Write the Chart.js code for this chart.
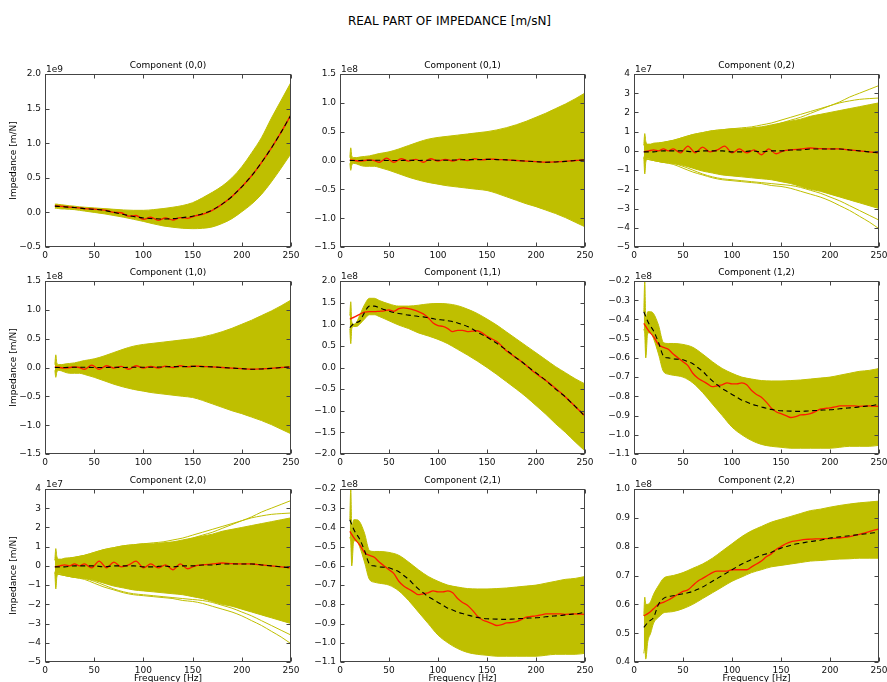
<!DOCTYPE html>
<html><head><meta charset="utf-8">
<script src="https://cdn.jsdelivr.net/npm/chart.js@4/dist/chart.umd.min.js"></script>
<style>
html,body{margin:0;padding:0;background:#fff;overflow:hidden;width:887px;height:682px;}
#suptitle{position:absolute;left:0;top:13px;width:899px;text-align:center;font:12px 'DejaVu Sans',sans-serif;color:#000;line-height:16px;white-space:nowrap}
canvas{position:absolute}
</style></head><body>
<div id="suptitle">REAL PART OF IMPEDANCE [m/sN]</div>
<script>
// ---------- frequency grids (Hz) ----------
const FREQ_ENV  = [10,11,12,14,17,20,25,30,35,40,50,60,70,80,90,100,110,120,130,140,150,160,170,180,190,200,210,220,230,240,250];
const FREQ_MEAN = [10,20,30,40,50,60,70,80,90,100,110,120,130,140,150,160,170,180,190,200,210,220,230,240,250];
const FREQ_WIG  = [10,15,20,25,30,35,40,47.5,55,62.5,70,77.5,85,92.5,100,107.5,115,122.5,130,137.5,145,152.5,160,170,180,190,200,210,220,230,240,250];
const FREQ_FINE = [10,15,20,25,30,35,40,45,50,55,60,65,70,75,80,85,90,95,100,105,110,115,120,125,130,135,140,145,150,155,160,165,170,175,180,185,190,195,200,205,210,215,220,225,230,235,240,245,250];
const X_TICKS = [0,50,100,150,200,250];

// ---------- Component (0,0)  [x1e9] ----------
const upper00 = [0.12,0.12,0.12,0.115,0.11,0.105,0.095,0.09,0.08,0.075,0.065,0.055,0.045,0.035,0.03,0.03,0.04,0.055,0.075,0.1,0.14,0.21,0.29,0.38,0.5,0.66,0.86,1.08,1.36,1.62,1.88];
const lower00 = [0.06,0.06,0.06,0.055,0.05,0.05,0.045,0.04,0.03,0.02,0.0,-0.02,-0.045,-0.07,-0.1,-0.13,-0.165,-0.195,-0.215,-0.23,-0.235,-0.23,-0.21,-0.16,-0.09,0.01,0.12,0.26,0.44,0.64,0.85];
const mean00  = [0.09,0.08,0.07,0.055,0.045,0.03,0.0,-0.03,-0.06,-0.08,-0.09,-0.095,-0.09,-0.075,-0.055,-0.02,0.035,0.12,0.23,0.37,0.53,0.72,0.93,1.16,1.41];
const red00   = [0.095,0.09,0.085,0.075,0.07,0.065,0.055,0.05,0.04,0.03,0.0,-0.005,-0.055,-0.045,-0.1,-0.07,-0.115,-0.08,-0.11,-0.075,-0.085,-0.05,-0.03,0.03,0.12,0.23,0.37,0.53,0.72,0.93,1.16,1.41];
const yTicks00 = [-0.5,0,0.5,1,1.5,2];

// ---------- Component (0,1) = (1,0)  [x1e8] ----------
const upper01 = [0.05,0.22,0.08,0.05,0.05,0.06,0.07,0.08,0.1,0.12,0.15,0.2,0.26,0.32,0.37,0.4,0.42,0.44,0.46,0.48,0.5,0.53,0.57,0.62,0.68,0.75,0.82,0.9,0.98,1.07,1.17];
const lower01 = [-0.05,-0.17,-0.08,-0.05,-0.06,-0.08,-0.1,-0.1,-0.1,-0.12,-0.17,-0.23,-0.29,-0.34,-0.38,-0.41,-0.44,-0.46,-0.48,-0.5,-0.52,-0.57,-0.63,-0.69,-0.75,-0.8,-0.86,-0.92,-0.99,-1.07,-1.15];
const mean01  = [0.0,0.0,0.005,0.005,0.0,0.0,0.005,0.0,0.005,0.005,0.005,0.01,0.015,0.015,0.02,0.015,0.01,0.0,-0.01,-0.02,-0.03,-0.025,-0.015,0.0,0.01];
const red01   = [0.01,0.0,-0.01,0.0,0.01,0.0,-0.03,0.04,-0.03,0.03,-0.01,0.02,-0.03,0.03,-0.01,0.02,-0.01,0.025,0.0,0.03,0.01,0.025,0.02,0.01,0.0,-0.01,-0.02,-0.03,-0.025,-0.015,0.0,0.01];
const yTicks01 = [-1.5,-1,-0.5,0,0.5,1,1.5];

// ---------- Component (0,2) = (2,0)  [x1e7] ----------
const upper02 = [0.3,0.9,0.5,0.35,0.35,0.4,0.42,0.45,0.5,0.55,0.7,0.85,0.95,1.05,1.1,1.15,1.15,1.2,1.25,1.35,1.45,1.55,1.65,1.8,1.9,2.0,2.1,2.2,2.3,2.4,2.5];
const lower02 = [-0.3,-1.2,-0.6,-0.4,-0.45,-0.5,-0.55,-0.6,-0.62,-0.65,-0.75,-0.9,-1.05,-1.15,-1.25,-1.3,-1.35,-1.4,-1.45,-1.5,-1.6,-1.7,-1.85,-2.0,-2.1,-2.25,-2.4,-2.55,-2.7,-2.85,-3.0];
const outA02  = [0.3,0.35,0.4,0.5,0.6,0.75,0.85,0.95,1.0,1.05,1.1,1.15,1.2,1.3,1.45,1.6,1.75,1.95,2.15,2.35,2.55,2.8,3.0,3.2,3.4];
const outB02  = [0.3,0.35,0.45,0.55,0.7,0.85,0.95,1.05,1.1,1.15,1.2,1.25,1.35,1.45,1.6,1.75,1.9,2.05,2.2,2.35,2.5,2.6,2.68,2.72,2.75];
const outC02  = [-0.4,-0.5,-0.6,-0.7,-0.9,-1.1,-1.25,-1.4,-1.5,-1.55,-1.6,-1.65,-1.7,-1.8,-1.85,-1.95,-2.1,-2.25,-2.4,-2.6,-2.85,-3.1,-3.4,-3.7,-4.05];
const outD02  = [-0.4,-0.5,-0.6,-0.65,-0.8,-1.0,-1.2,-1.35,-1.45,-1.5,-1.55,-1.6,-1.65,-1.7,-1.75,-1.8,-1.9,-2.05,-2.2,-2.4,-2.6,-2.85,-3.1,-3.35,-3.6];
const mean02  = [-0.05,-0.05,0.0,0.0,0.0,-0.05,0.0,0.0,0.0,-0.05,-0.05,0.0,-0.05,0.0,0.0,0.05,0.05,0.1,0.1,0.1,0.1,0.05,0.0,-0.05,-0.1];
const red02   = [-0.05,0.0,0.05,0.0,0.1,0.0,0.1,-0.1,0.25,-0.1,0.2,-0.05,0.05,0.25,-0.1,0.1,-0.1,0.05,-0.2,0.1,-0.15,0.0,0.05,0.1,0.15,0.12,0.1,0.1,0.05,0.0,-0.05,-0.1];
const yTicks02 = [-5,-4,-3,-2,-1,0,1,2,3,4];

// ---------- Component (1,1)  [x1e8] ----------
const upper11 = [1.2,1.52,1.05,1.0,1.05,1.2,1.45,1.6,1.6,1.55,1.47,1.42,1.42,1.44,1.47,1.48,1.47,1.43,1.35,1.25,1.12,0.98,0.82,0.66,0.5,0.34,0.18,0.02,-0.12,-0.26,-0.38];
const lower11 = [0.9,0.55,0.9,0.95,0.95,1.0,1.12,1.22,1.22,1.18,1.08,0.98,0.9,0.8,0.73,0.65,0.55,0.42,0.29,0.15,0.0,-0.16,-0.33,-0.5,-0.68,-0.88,-1.08,-1.3,-1.5,-1.72,-1.93];
const mean11  = [0.92,1.03,1.07,1.27,1.42,1.42,1.38,1.34,1.3,1.27,1.25,1.23,1.21,1.2,1.18,1.17,1.15,1.13,1.11,1.1,1.08,1.06,1.03,0.99,0.95,0.89,0.82,0.76,0.7,0.63,0.56,0.48,0.4,0.31,0.22,0.14,0.05,-0.04,-0.12,-0.21,-0.3,-0.4,-0.5,-0.59,-0.68,-0.79,-0.9,-1.01,-1.13];
const red11   = [1.12,1.17,1.23,1.28,1.29,1.29,1.3,1.31,1.33,1.3,1.36,1.38,1.36,1.33,1.29,1.24,1.15,1.03,0.97,0.95,0.9,0.83,0.86,0.86,0.83,0.84,0.85,0.8,0.72,0.66,0.6,0.5,0.38,0.3,0.22,0.14,0.05,-0.05,-0.14,-0.22,-0.3,-0.39,-0.48,-0.58,-0.68,-0.79,-0.9,-1.01,-1.12];
const yTicks11 = [-2,-1.5,-1,-0.5,0,0.5,1,1.5,2];

// ---------- Component (1,2) = (2,1)  [x1e8] ----------
const upper12 = [-0.36,-0.2,-0.4,-0.36,-0.36,-0.37,-0.43,-0.52,-0.525,-0.525,-0.53,-0.545,-0.58,-0.62,-0.655,-0.68,-0.7,-0.71,-0.718,-0.72,-0.72,-0.718,-0.715,-0.71,-0.705,-0.7,-0.69,-0.68,-0.67,-0.665,-0.655];
const lower12 = [-0.45,-0.48,-0.6,-0.47,-0.47,-0.5,-0.58,-0.67,-0.685,-0.69,-0.7,-0.73,-0.78,-0.84,-0.9,-0.96,-1.0,-1.03,-1.05,-1.06,-1.065,-1.07,-1.07,-1.07,-1.07,-1.07,-1.065,-1.06,-1.06,-1.06,-1.055];
const mean12  = [-0.36,-0.42,-0.46,-0.52,-0.59,-0.6,-0.605,-0.607,-0.61,-0.62,-0.63,-0.65,-0.67,-0.695,-0.72,-0.74,-0.76,-0.775,-0.79,-0.805,-0.82,-0.83,-0.84,-0.848,-0.855,-0.862,-0.868,-0.872,-0.875,-0.876,-0.877,-0.878,-0.878,-0.877,-0.875,-0.874,-0.872,-0.871,-0.87,-0.868,-0.865,-0.862,-0.86,-0.858,-0.855,-0.852,-0.85,-0.846,-0.84];
const red12   = [-0.42,-0.46,-0.49,-0.53,-0.545,-0.555,-0.58,-0.6,-0.62,-0.64,-0.68,-0.705,-0.72,-0.735,-0.75,-0.745,-0.74,-0.73,-0.735,-0.735,-0.73,-0.74,-0.77,-0.79,-0.805,-0.83,-0.86,-0.88,-0.89,-0.9,-0.91,-0.905,-0.897,-0.895,-0.89,-0.88,-0.866,-0.863,-0.86,-0.855,-0.85,-0.85,-0.85,-0.85,-0.852,-0.851,-0.85,-0.851,-0.852];
const yTicks12 = [-1.1,-1.0,-0.9,-0.8,-0.7,-0.6,-0.5,-0.4,-0.3,-0.2];

// ---------- Component (2,2)  [x1e8] ----------
const upper22 = [0.56,0.625,0.6,0.6,0.61,0.635,0.665,0.69,0.697,0.7,0.71,0.725,0.74,0.76,0.785,0.81,0.835,0.855,0.87,0.885,0.895,0.905,0.915,0.925,0.93,0.937,0.943,0.948,0.952,0.955,0.958];
const lower22 = [0.43,0.45,0.41,0.47,0.5,0.535,0.555,0.57,0.573,0.575,0.585,0.6,0.62,0.64,0.66,0.68,0.695,0.71,0.72,0.73,0.735,0.74,0.745,0.75,0.752,0.755,0.757,0.758,0.76,0.76,0.76];
const mean22  = [0.52,0.54,0.555,0.6,0.62,0.627,0.63,0.633,0.637,0.64,0.645,0.652,0.66,0.67,0.68,0.69,0.7,0.71,0.72,0.73,0.74,0.748,0.755,0.763,0.77,0.775,0.78,0.788,0.795,0.8,0.805,0.809,0.812,0.815,0.818,0.82,0.822,0.826,0.83,0.832,0.834,0.836,0.838,0.84,0.842,0.844,0.846,0.848,0.85];
const red22   = [0.56,0.57,0.585,0.6,0.607,0.615,0.625,0.635,0.645,0.65,0.665,0.68,0.69,0.7,0.71,0.715,0.715,0.715,0.72,0.72,0.72,0.72,0.73,0.74,0.75,0.765,0.775,0.79,0.8,0.81,0.817,0.82,0.823,0.825,0.826,0.827,0.827,0.828,0.828,0.829,0.83,0.832,0.835,0.839,0.843,0.847,0.852,0.857,0.862];
const yTicks22 = [0.4,0.5,0.6,0.7,0.8,0.9,1.0];

// ---------- panels ----------
const PANELS = [
  {title:'Component (0,0)', row:0, col:0, up:upper00, lo:lower00, meanX:FREQ_MEAN, mean:mean00, redX:FREQ_WIG,  red:red00, outs:[], yt:yTicks00, dec:1, exp:'1e9'},
  {title:'Component (0,1)', row:0, col:1, up:upper01, lo:lower01, meanX:FREQ_MEAN, mean:mean01, redX:FREQ_WIG,  red:red01, outs:[], yt:yTicks01, dec:1, exp:'1e8'},
  {title:'Component (0,2)', row:0, col:2, up:upper02, lo:lower02, meanX:FREQ_MEAN, mean:mean02, redX:FREQ_WIG,  red:red02, outs:[outA02,outB02,outC02,outD02], yt:yTicks02, dec:0, exp:'1e7'},
  {title:'Component (1,0)', row:1, col:0, up:upper01, lo:lower01, meanX:FREQ_MEAN, mean:mean01, redX:FREQ_WIG,  red:red01, outs:[], yt:yTicks01, dec:1, exp:'1e8'},
  {title:'Component (1,1)', row:1, col:1, up:upper11, lo:lower11, meanX:FREQ_FINE, mean:mean11, redX:FREQ_FINE, red:red11, outs:[], yt:yTicks11, dec:1, exp:'1e8'},
  {title:'Component (1,2)', row:1, col:2, up:upper12, lo:lower12, meanX:FREQ_FINE, mean:mean12, redX:FREQ_FINE, red:red12, outs:[], yt:yTicks12, dec:1, exp:'1e8'},
  {title:'Component (2,0)', row:2, col:0, up:upper02, lo:lower02, meanX:FREQ_MEAN, mean:mean02, redX:FREQ_WIG,  red:red02, outs:[outA02,outB02,outC02,outD02], yt:yTicks02, dec:0, exp:'1e7'},
  {title:'Component (2,1)', row:2, col:1, up:upper12, lo:lower12, meanX:FREQ_FINE, mean:mean12, redX:FREQ_FINE, red:red12, outs:[], yt:yTicks12, dec:1, exp:'1e8'},
  {title:'Component (2,2)', row:2, col:2, up:upper22, lo:lower22, meanX:FREQ_FINE, mean:mean22, redX:FREQ_FINE, red:red22, outs:[], yt:yTicks22, dec:1, exp:'1e8'}
];

// ---------- layout & style ----------
Chart.defaults.font.family = "'DejaVu Sans', sans-serif";
Chart.defaults.font.size = 9;
Chart.defaults.color = '#111';
const OLIVE = '#bfbf00';
const COLS = [{L:45, W:246}, {L:340, W:245}, {L:634, W:245}];
const ROWS = [74, 281, 489];
const PH = 173;

function fmt(v, d) { if (Math.abs(v) < 1e-9) v = 0; return v.toFixed(d).replace('-', '\u2212'); }
function pts(xs, ys) { return xs.map((x, i) => ({x: x, y: ys[i]})); }
function line(xs, ys, color, w, dash) {
  return {data: pts(xs, ys), borderColor: color, borderWidth: w, borderDash: dash || [],
          pointRadius: 0, fill: false, cubicInterpolationMode: 'monotone', backgroundColor: color};
}

const framePlugin = {
  id: 'frame',
  afterDraw(chart, args, opts) {
    const {ctx, chartArea: a, scales: {x, y}} = chart;
    const l = Math.round(a.left) + 0.5, r = Math.round(a.right) - 0.5;
    const t = Math.round(a.top) + 0.5, b = Math.round(a.bottom) - 0.5;
    ctx.save();
    ctx.strokeStyle = '#444'; ctx.lineWidth = 1;
    ctx.beginPath();
    x.ticks.forEach(tk => { const px = Math.round(x.getPixelForValue(tk.value)) + 0.5;
      ctx.moveTo(px, b); ctx.lineTo(px, b - 4); ctx.moveTo(px, t); ctx.lineTo(px, t + 4); });
    y.ticks.forEach(tk => { const py = Math.round(y.getPixelForValue(tk.value)) + 0.5;
      ctx.moveTo(l, py); ctx.lineTo(l + 4, py); ctx.moveTo(r, py); ctx.lineTo(r - 4, py); });
    ctx.stroke();
    ctx.strokeRect(l, t, r - l, b - t);
    ctx.fillStyle = '#111'; ctx.font = "9px 'DejaVu Sans', sans-serif";
    ctx.textAlign = 'left'; ctx.textBaseline = 'alphabetic';
    ctx.fillText(opts.offset || '', a.left + 1, a.top - 2);
    ctx.restore();
  }
};

PANELS.forEach(p => {
  const col = COLS[p.col], top = ROWS[p.row];
  const bottomRow = p.row === 2, leftCol = p.col === 0;
  const xH = bottomRow ? 686 - (top + PH) : 22;
  const cw = 45 + col.W + 12, ch = 26 + PH + xH;
  const cv = document.createElement('canvas');
  cv.width = cw; cv.height = ch;
  cv.style.left = (col.L - 45) + 'px'; cv.style.top = (top - 26) + 'px';
  cv.style.width = cw + 'px'; cv.style.height = ch + 'px';
  document.body.appendChild(cv);

  const ds = [];
  ds.push(line(p.meanX, p.mean, '#000', 1.1, [5, 3.5]));
  ds.push(line(p.redX, p.red, '#ff1a00', 1.3));
  p.outs.forEach(o => ds.push(line(FREQ_MEAN, o, OLIVE, 1)));
  const loIdx = ds.length + 1;
  const up = line(FREQ_ENV, p.up, OLIVE, 1);
  up.fill = loIdx;
  ds.push(up);
  ds.push(line(FREQ_ENV, p.lo, OLIVE, 1));

  new Chart(cv, {
    type: 'line',
    data: {datasets: ds},
    options: {
      responsive: false, animation: false, devicePixelRatio: 1,
      layout: {padding: {left: 0, right: 12, top: 0, bottom: 0}},
      plugins: {
        legend: {display: false}, tooltip: {enabled: false},
        title: {display: true, fullSize: false, text: p.title, color: '#000', font: {size: 9, weight: 'normal'}, padding: {top: 12.6, bottom: 2.6}},
        frame: {offset: p.exp}
      },
      scales: {
        x: {type: 'linear', min: 0, max: 250,
            grid: {display: false, drawTicks: false}, border: {display: false},
            ticks: {padding: 3, maxRotation: 0, autoSkip: false, color: '#111', callback: v => fmt(v, 0)},
            afterBuildTicks: s => { s.ticks = X_TICKS.map(v => ({value: v})); },
            afterFit: s => { s.height = xH; },
            title: {display: bottomRow, text: 'Frequency [Hz]', color: '#000', font: {size: 9}, padding: {top: 0, bottom: 2.1}}},
        y: {type: 'linear', min: p.yt[0], max: p.yt[p.yt.length - 1],
            grid: {display: false, drawTicks: false}, border: {display: false},
            ticks: {padding: 4, autoSkip: false, color: '#111', callback: v => fmt(v, p.dec)},
            afterBuildTicks: s => { s.ticks = p.yt.map(v => ({value: v})); },
            afterFit: s => { s.width = 45; },
            title: {display: leftCol, text: 'Impedance [m/N]', color: '#000', font: {size: 9}, padding: {top: 8.1, bottom: 0}}}
      }
    },
    plugins: [framePlugin]
  });
});
</script>
</body></html>
